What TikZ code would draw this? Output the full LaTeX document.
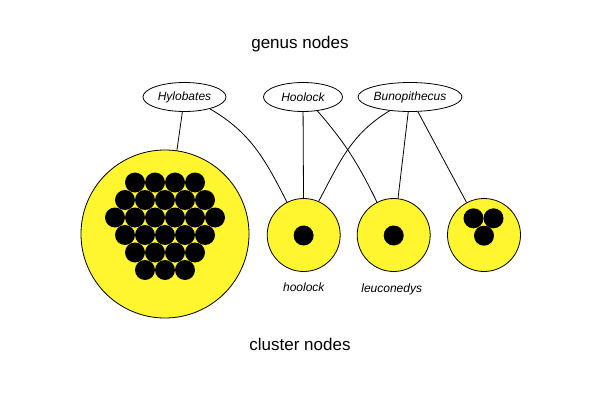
\documentclass[tikz,border=0pt]{standalone}
\usepackage{fontspec}
\setmainfont{Liberation Sans}
\usetikzlibrary{shapes.geometric}
\definecolor{cyellow}{RGB}{255,246,48}
\begin{document}
\begin{tikzpicture}[x=1pt,y=1pt,
  genus/.style={ellipse, draw=black, line width=0.8pt, inner sep=0pt, minimum height=29pt, font=\fontsize{12}{14}\selectfont\itshape},
  cluster/.style={circle, draw=black, line width=0.8pt, fill=cyellow, inner sep=0pt},
  edge/.style={draw=black, line width=0.8pt},
  dot/.style={fill=black},
  title/.style={font=\fontsize{17}{20}\selectfont, anchor=base},
  lbl/.style={font=\fontsize{12}{14}\selectfont\itshape, anchor=base}]
\useasboundingbox (0,0) rectangle (600,400);
\node[title] (gt) at (300,351) {genus nodes};
\node[title] (ct) at (300,50) {cluster nodes};
\node[genus, minimum width=83pt] (hyl) at (184.5,303) {Hylobates};
\node[genus, minimum width=79pt] (hoo) at (303,303) {Hoolock};
\node[genus, minimum width=104pt] (buno) at (410,303) {Bunopithecus};
\node[cluster, minimum size=168pt] (big) at (165,166) {};
\node[cluster, minimum size=73pt] (hc) at (303.7,165) {};
\node[cluster, minimum size=73pt] (lc) at (393.7,165) {};
\node[cluster, minimum size=73pt] (tc) at (484,165) {};
\node[lbl] (hl) at (303.8,108.5) {hoolock};
\node[lbl] (ll) at (391.7,108) {leuconedys};
% member dots
\foreach \yy/\xl in {217.5/{135,155,175,195}, 200/{125,145,165,185,205}, 182.5/{115,135,155,175,195,215}, 165/{125,145,165,185,205}, 147.5/{135,155,175,195}, 130/{145,165,185}}
  \foreach \xx in \xl {\fill[dot] (\xx,\yy) circle (10);}
\fill[dot] (303.6,164.5) circle (10);
\fill[dot] (393.7,164.5) circle (10);
\fill[dot] (473.5,181.7) circle (10);
\fill[dot] (493.5,181.7) circle (10);
\fill[dot] (484,164.3) circle (10);
% edges
\draw[edge] (hyl) -- (big);
\draw[edge] (hoo) -- (hc);
\draw[edge] (buno) -- (lc);
\draw[edge] (buno) -- (tc);
\draw[edge] (hyl.-25) to[out=-30,in=117] (hc.117);
\draw[edge] (hoo.-44) to[out=-49,in=116] (lc.117);
\draw[edge] (buno.214) to[out=211,in=62] (hc.66);
\end{tikzpicture}
\end{document}
